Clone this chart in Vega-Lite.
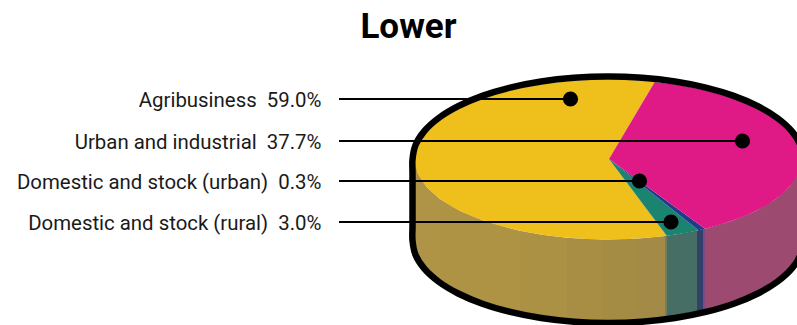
{"$schema":"https://vega.github.io/schema/vega-lite/v6.json","width":797,"height":325,"padding":0,"autosize":"none","background":"white","config":{"view":{"stroke":null}},
"title":{"text":"Lower","font":"Roboto","fontWeight":"bold","fontSize":35,"color":"#000000","anchor":"middle","dx":10,"dy":73,"offset":0,"baseline":"alphabetic"},
"datasets":{
"side":[
{"part":"sideY1","x":415,"y":159.5,"y2":240.5},{"part":"sideY1","x":417.9,"y":173.4,"y2":254.4},{"part":"sideY1","x":426.6,"y":186.9,"y2":267.9},{"part":"sideY1","x":440,"y":198.9,"y2":279.9},
{"part":"sideY2","x":440,"y":198.9,"y2":279.9},{"part":"sideY2","x":460.2,"y":210.9,"y2":291.9},{"part":"sideY2","x":483.9,"y":220.8,"y2":301.8},{"part":"sideY2","x":511.5,"y":228.8,"y2":309.8},{"part":"sideY2","x":520,"y":230.7,"y2":311.7},
{"part":"sideY3","x":520,"y":230.7,"y2":311.7},{"part":"sideY3","x":542,"y":234.7,"y2":315.7},{"part":"sideY3","x":567,"y":237.7,"y2":318.7},
{"part":"sideY4","x":567,"y":237.7,"y2":318.7},{"part":"sideY4","x":574.5,"y":238.3,"y2":319.3},{"part":"sideY4","x":603,"y":239.5,"y2":320.5},
{"part":"sideY5","x":603,"y":239.5,"y2":320.5},{"part":"sideY5","x":608,"y":239.5,"y2":320.5},{"part":"sideY5","x":638,"y":238.5,"y2":319.5},
{"part":"sideY6","x":638,"y":238.5,"y2":319.5},{"part":"sideY6","x":641.5,"y":238.3,"y2":319.3},{"part":"sideY6","x":665,"y":235.9,"y2":316.9},
{"part":"sideStripe","x":665,"y":235.9,"y2":316.9},{"part":"sideStripe","x":667,"y":235.6,"y2":316.6},
{"part":"sideTeal","x":667,"y":235.6,"y2":316.6},{"part":"sideTeal","x":674,"y":234.7,"y2":315.7},{"part":"sideTeal","x":697,"y":230.5,"y2":311.5},
{"part":"sideBlue","x":697,"y":230.5,"y2":311.5},{"part":"sideBlue","x":703,"y":229.1,"y2":310.1},
{"part":"sidePurple","x":703,"y":229.1,"y2":310.1},{"part":"sidePurple","x":705,"y":228.7,"y2":309.7},
{"part":"sideMagenta","x":705,"y":228.7,"y2":309.7},{"part":"sideMagenta","x":732.1,"y":220.8,"y2":301.8},{"part":"sideMagenta","x":755.8,"y":210.9,"y2":291.9},{"part":"sideMagenta","x":775.1,"y":199.5,"y2":280.5},{"part":"sideMagenta","x":789.4,"y":186.9,"y2":267.9},{"part":"sideMagenta","x":798.1,"y":173.4,"y2":254.4},{"part":"sideMagenta","x":801,"y":159.5,"y2":240.5}
],
"slices":[
{"part":"Agribusiness","n":0,"x":609,"y":159},{"part":"Agribusiness","n":1,"x":654.7,"y":81.9},{"part":"Agribusiness","n":2,"x":641.5,"y":80.7},{"part":"Agribusiness","n":3,"x":624.8,"y":79.8},{"part":"Agribusiness","n":4,"x":608,"y":79.5},{"part":"Agribusiness","n":5,"x":591.2,"y":79.8},{"part":"Agribusiness","n":6,"x":574.5,"y":80.7},{"part":"Agribusiness","n":7,"x":558,"y":82.2},{"part":"Agribusiness","n":8,"x":542,"y":84.3},{"part":"Agribusiness","n":9,"x":526.4,"y":87},{"part":"Agribusiness","n":10,"x":511.5,"y":90.2},{"part":"Agribusiness","n":11,"x":497.3,"y":94},{"part":"Agribusiness","n":12,"x":483.9,"y":98.2},{"part":"Agribusiness","n":13,"x":471.5,"y":102.9},{"part":"Agribusiness","n":14,"x":460.2,"y":108.1},{"part":"Agribusiness","n":15,"x":449.9,"y":113.6},{"part":"Agribusiness","n":16,"x":440.9,"y":119.5},{"part":"Agribusiness","n":17,"x":433.1,"y":125.7},{"part":"Agribusiness","n":18,"x":426.6,"y":132.1},{"part":"Agribusiness","n":19,"x":421.6,"y":138.8},{"part":"Agribusiness","n":20,"x":417.9,"y":145.6},{"part":"Agribusiness","n":21,"x":415.7,"y":152.5},{"part":"Agribusiness","n":22,"x":415,"y":159.5},{"part":"Agribusiness","n":23,"x":415.7,"y":166.5},{"part":"Agribusiness","n":24,"x":417.9,"y":173.4},{"part":"Agribusiness","n":25,"x":421.6,"y":180.2},{"part":"Agribusiness","n":26,"x":426.6,"y":186.9},{"part":"Agribusiness","n":27,"x":433.1,"y":193.3},{"part":"Agribusiness","n":28,"x":440.9,"y":199.5},{"part":"Agribusiness","n":29,"x":449.9,"y":205.4},{"part":"Agribusiness","n":30,"x":460.2,"y":210.9},{"part":"Agribusiness","n":31,"x":471.5,"y":216.1},{"part":"Agribusiness","n":32,"x":483.9,"y":220.8},{"part":"Agribusiness","n":33,"x":497.3,"y":225},{"part":"Agribusiness","n":34,"x":511.5,"y":228.8},{"part":"Agribusiness","n":35,"x":526.4,"y":232},{"part":"Agribusiness","n":36,"x":542,"y":234.7},{"part":"Agribusiness","n":37,"x":558,"y":236.8},{"part":"Agribusiness","n":38,"x":574.5,"y":238.3},{"part":"Agribusiness","n":39,"x":591.2,"y":239.2},{"part":"Agribusiness","n":40,"x":608,"y":239.5},{"part":"Agribusiness","n":41,"x":624.8,"y":239.2},{"part":"Agribusiness","n":42,"x":641.5,"y":238.3},{"part":"Agribusiness","n":43,"x":658,"y":236.8},{"part":"Agribusiness","n":44,"x":666.7,"y":235.7},{"part":"Agribusiness","n":45,"x":609,"y":159},
{"part":"Rural","n":0,"x":609,"y":159},{"part":"Rural","n":1,"x":666.7,"y":235.7},{"part":"Rural","n":2,"x":674,"y":234.7},{"part":"Rural","n":3,"x":688,"y":232.4},{"part":"Rural","n":4,"x":698.5,"y":230.2},{"part":"Rural","n":5,"x":609,"y":159},
{"part":"Urban domestic","n":0,"x":609,"y":159},{"part":"Urban domestic","n":1,"x":698.5,"y":230.2},{"part":"Urban domestic","n":2,"x":705,"y":228.8},{"part":"Urban domestic","n":3,"x":609,"y":159},
{"part":"Urban and industrial","n":0,"x":609,"y":159},{"part":"Urban and industrial","n":1,"x":705,"y":228.8},{"part":"Urban and industrial","n":2,"x":718.7,"y":225},{"part":"Urban and industrial","n":3,"x":732.1,"y":220.8},{"part":"Urban and industrial","n":4,"x":744.5,"y":216.1},{"part":"Urban and industrial","n":5,"x":755.8,"y":210.9},{"part":"Urban and industrial","n":6,"x":766.1,"y":205.4},{"part":"Urban and industrial","n":7,"x":775.1,"y":199.5},{"part":"Urban and industrial","n":8,"x":782.9,"y":193.3},{"part":"Urban and industrial","n":9,"x":789.4,"y":186.9},{"part":"Urban and industrial","n":10,"x":794.4,"y":180.2},{"part":"Urban and industrial","n":11,"x":798.1,"y":173.4},{"part":"Urban and industrial","n":12,"x":800.3,"y":166.5},{"part":"Urban and industrial","n":13,"x":801,"y":159.5},{"part":"Urban and industrial","n":14,"x":800.3,"y":152.5},{"part":"Urban and industrial","n":15,"x":798.1,"y":145.6},{"part":"Urban and industrial","n":16,"x":794.4,"y":138.8},{"part":"Urban and industrial","n":17,"x":789.4,"y":132.1},{"part":"Urban and industrial","n":18,"x":782.9,"y":125.7},{"part":"Urban and industrial","n":19,"x":775.1,"y":119.5},{"part":"Urban and industrial","n":20,"x":766.1,"y":113.6},{"part":"Urban and industrial","n":21,"x":755.8,"y":108.1},{"part":"Urban and industrial","n":22,"x":744.5,"y":102.9},{"part":"Urban and industrial","n":23,"x":732.1,"y":98.2},{"part":"Urban and industrial","n":24,"x":718.7,"y":94},{"part":"Urban and industrial","n":25,"x":704.5,"y":90.2},{"part":"Urban and industrial","n":26,"x":689.6,"y":87},{"part":"Urban and industrial","n":27,"x":674,"y":84.3},{"part":"Urban and industrial","n":28,"x":654.7,"y":81.9},{"part":"Urban and industrial","n":29,"x":609,"y":159}
],
"outline":[
{"n":0,"x":803.5,"y":159.5},{"n":1,"x":800.5,"y":145.1},{"n":2,"x":791.7,"y":131.1},{"n":3,"x":777.3,"y":118},{"n":4,"x":757.8,"y":106.2},{"n":5,"x":733.7,"y":95.9},{"n":6,"x":705.8,"y":87.6},{"n":7,"x":674.9,"y":81.5},{"n":8,"x":642,"y":77.8},{"n":9,"x":608,"y":76.5},{"n":10,"x":574,"y":77.8},{"n":11,"x":541.1,"y":81.5},{"n":12,"x":510.2,"y":87.6},{"n":13,"x":482.3,"y":95.9},{"n":14,"x":458.2,"y":106.2},{"n":15,"x":438.7,"y":118},{"n":16,"x":424.3,"y":131.1},{"n":17,"x":415.5,"y":145.1},{"n":18,"x":412.5,"y":159.5},{"n":19,"x":412.5,"y":173},{"n":20,"x":412.5,"y":187},{"n":21,"x":412.5,"y":200},{"n":22,"x":412.5,"y":214},{"n":23,"x":412.5,"y":227},{"n":24,"x":412.5,"y":240.5},{"n":25,"x":415.5,"y":254.8},{"n":26,"x":424.3,"y":268.7},{"n":27,"x":438.7,"y":281.75},{"n":28,"x":458.2,"y":293.5},{"n":29,"x":482.3,"y":303.7},{"n":30,"x":510.2,"y":311.9},{"n":31,"x":541.1,"y":318},{"n":32,"x":574,"y":321.7},{"n":33,"x":608,"y":323},{"n":34,"x":642,"y":321.7},{"n":35,"x":674.9,"y":318},{"n":36,"x":705.8,"y":311.9},{"n":37,"x":733.7,"y":303.7},{"n":38,"x":757.8,"y":293.5},{"n":39,"x":777.3,"y":281.75},{"n":40,"x":791.7,"y":268.7},{"n":41,"x":800.5,"y":254.8},{"n":42,"x":803.5,"y":240.5}
],
"labels":[
{"label":"Agribusiness\u00a0\u00a059.0%","share":59.0,"labelX":321.5,"lineStart":339,"dotX":570.5,"rowY":99},
{"label":"Urban and industrial\u00a0\u00a037.7%","share":37.7,"labelX":321.5,"lineStart":339,"dotX":742.5,"rowY":141},
{"label":"Domestic and stock (urban)\u00a0\u00a00.3%","share":0.3,"labelX":321.5,"lineStart":339,"dotX":639.5,"rowY":181},
{"label":"Domestic and stock (rural)\u00a0\u00a03.0%","share":3.0,"labelX":321.5,"lineStart":339,"dotX":671,"rowY":222}
]},
"layer":[
{"data":{"name":"side"},"mark":{"type":"area","clip":true,"interpolate":"linear"},
"encoding":{"x":{"field":"x","type":"quantitative","axis":null,"scale":{"domain":[0,797],"nice":false,"zero":false}},"y":{"field":"y","type":"quantitative","axis":null,"scale":{"domain":[325,0],"nice":false,"zero":false}},"y2":{"field":"y2"},
"fill":{"field":"part","type":"nominal","legend":null,"scale":{"domain":["sideY1","sideY2","sideY3","sideY4","sideY5","sideY6","sideStripe","sideTeal","sideBlue","sidePurple","sideMagenta","Agribusiness","Urban and industrial","Rural","Urban domestic"],"range":["#af9347","#ae9345","#ab9144","#a88e44","#a58c45","#a38a46","#6f7f62","#466e65","#33406b","#7a4a80","#9c4a6f","#efbf1b","#df1a86","#1a8471","#1f3b8a"]}}}},
{"data":{"name":"slices"},"mark":{"type":"line","clip":true,"strokeWidth":0,"interpolate":"linear"},
"encoding":{"x":{"field":"x","type":"quantitative","axis":null,"scale":{"domain":[0,797],"nice":false,"zero":false}},"y":{"field":"y","type":"quantitative","axis":null,"scale":{"domain":[325,0],"nice":false,"zero":false}},"order":{"field":"n","type":"quantitative"},
"fill":{"field":"part","type":"nominal","legend":null}}},
{"data":{"name":"outline"},"mark":{"type":"line","clip":true,"stroke":"#000000","strokeWidth":6.5,"interpolate":"catmull-rom"},
"encoding":{"x":{"field":"x","type":"quantitative","axis":null,"scale":{"domain":[0,797],"nice":false,"zero":false}},"y":{"field":"y","type":"quantitative","axis":null,"scale":{"domain":[325,0],"nice":false,"zero":false}},"order":{"field":"n","type":"quantitative"}}},
{"data":{"name":"labels"},"mark":{"type":"rule","stroke":"#000000","strokeWidth":2.2},
"encoding":{"x":{"field":"lineStart","type":"quantitative","axis":null,"scale":{"domain":[0,797],"nice":false,"zero":false}},"x2":{"field":"dotX"},"y":{"field":"rowY","type":"quantitative","axis":null,"scale":{"domain":[325,0],"nice":false,"zero":false}}}},
{"data":{"name":"labels"},"mark":{"type":"point","filled":true,"opacity":1,"color":"#000000","size":230},
"encoding":{"x":{"field":"dotX","type":"quantitative","axis":null,"scale":{"domain":[0,797],"nice":false,"zero":false}},"y":{"field":"rowY","type":"quantitative","axis":null,"scale":{"domain":[325,0],"nice":false,"zero":false}}}},
{"data":{"name":"labels"},"mark":{"type":"text","align":"right","baseline":"middle","dy":1.5,"font":"Roboto","fontSize":20.4,"color":"#1a1a1a"},
"encoding":{"x":{"field":"labelX","type":"quantitative","axis":null,"scale":{"domain":[0,797],"nice":false,"zero":false}},"y":{"field":"rowY","type":"quantitative","axis":null,"scale":{"domain":[325,0],"nice":false,"zero":false}},"text":{"field":"label"}}}
]}
